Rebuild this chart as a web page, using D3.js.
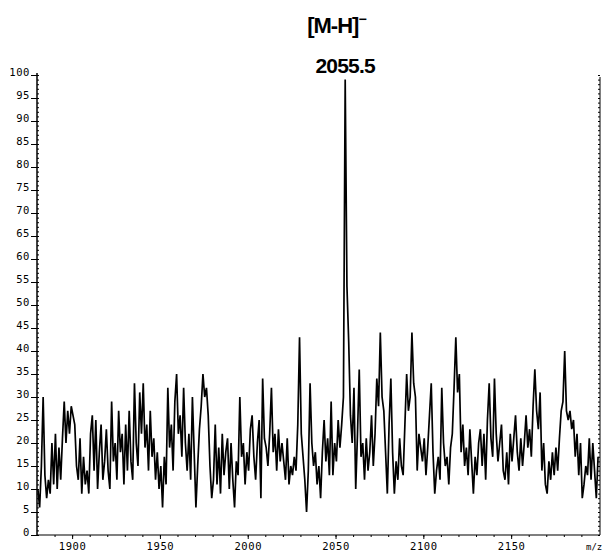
<!DOCTYPE html>
<html>
<head>
<meta charset="utf-8">
<script src="https://cdn.jsdelivr.net/npm/d3@7"></script>
<style>
  body { margin: 0; background: #fff; }
  svg { display: block; }
  .tick text { font-family: "DejaVu Sans Mono", monospace; font-size: 10.5px; letter-spacing: 0.6px; fill: #000; }
</style>
</head>
<body>
<svg id="chart" width="606" height="552"></svg>
<script>
// Negative-ion mass spectrum: relative abundance (%) against m/z.
// Intensities are sampled once per Da, starting at mzStart.
const mzStart = 1880.5;
const intensities = [
  10, 6, 15, 30, 13, 8, 12, 9, 20, 11, 22, 10, 19, 12, 21, 29, 20, 27, 22, 28,
  26, 24, 15, 12, 21, 9, 17, 11, 14, 9, 22, 26, 14, 25, 10, 18, 24, 12, 16, 23,
  14, 10, 29, 16, 20, 12, 27, 18, 22, 11, 24, 14, 27, 16, 12, 33, 20, 15, 31, 22,
  33, 19, 24, 14, 27, 17, 21, 12, 18, 10, 15, 6, 17, 11, 32, 19, 24, 14, 29, 35,
  22, 26, 17, 32, 20, 14, 22, 12, 30, 18, 6, 15, 23, 28, 35, 30, 32, 26, 15, 8,
  12, 24, 11, 19, 9, 22, 13, 18, 21, 10, 20, 12, 6, 16, 13, 30, 17, 20, 11, 18,
  14, 23, 26, 17, 12, 20, 25, 8, 34, 21, 19, 15, 22, 32, 18, 22, 14, 23, 16, 20,
  16, 12, 21, 11, 15, 13, 17, 14, 24, 43, 22, 17, 12, 5, 14, 33, 20, 15, 18, 11,
  15, 8, 18, 25, 16, 21, 13, 29, 13, 20, 16, 25, 19, 24, 30, 99, 54, 42, 26, 20,
  32, 10, 22, 36, 17, 20, 12, 21, 14, 18, 26, 15, 22, 34, 28, 44, 30, 27, 18, 9,
  24, 34, 18, 9, 16, 12, 21, 15, 13, 24, 35, 27, 30, 44, 33, 30, 14, 22, 19, 16,
  21, 13, 19, 26, 33, 18, 9, 14, 17, 12, 32, 20, 15, 17, 11, 19, 22, 32, 43, 31,
  35, 18, 24, 15, 19, 13, 23, 16, 9, 17, 13, 20, 23, 15, 22, 12, 25, 33, 21, 17,
  34, 22, 16, 20, 24, 14, 12, 18, 11, 22, 16, 21, 26, 18, 14, 21, 15, 20, 26, 19,
  23, 17, 28, 36, 27, 23, 31, 14, 20, 11, 9, 16, 12, 18, 13, 19, 14, 21, 27, 29,
  40, 27, 25, 27, 23, 25, 17, 22, 13, 20, 8, 11, 15, 13, 21, 12, 20, 14, 8, 17
];
const mzDomain = [1880, 2200.6];
const xTickValues = [1900, 1950, 2000, 2050, 2100, 2150];
const yTickValues = [0, 5, 10, 15, 20, 25, 30, 35, 40, 45, 50, 55, 60, 65, 70, 75, 80, 85, 90, 95, 100];
const basePeakMz = 2055.5;
const ionLabel = "[M-H]";
const axisTitle = "m/z";

const plot = { left: 37, right: 600, top: 75, bottom: 535 };
const svg = d3.select("#chart");

const x = d3.scaleLinear().domain(mzDomain).range([plot.left, plot.right]);
const y = d3.scaleLinear().domain([0, 100]).range([plot.bottom, plot.top]);

const mz = intensities.map((_, i) => mzStart + i);

// spectrum trace
svg.append("path")
  .datum(intensities)
  .attr("fill", "none")
  .attr("stroke", "#000")
  .attr("stroke-width", 1.7)
  .attr("d", d3.line().x((d, i) => x(mz[i])).y(d => y(d)));

// bottom axis: labelled majors plus 10 Da minor ticks
const minorX = d3.range(1890, 2200, 10);
svg.append("g")
  .attr("transform", `translate(0,${plot.bottom})`)
  .call(d3.axisBottom(x).tickValues(minorX).tickSize(2).tickFormat(""))
  .call(g => g.select(".domain").remove())
  .call(g => g.selectAll("line").attr("stroke", "#000"));
svg.append("g")
  .attr("transform", `translate(0,${plot.bottom})`)
  .call(d3.axisBottom(x).tickValues(xTickValues).tickSize(4).tickPadding(4).tickFormat(d3.format("d")))
  .call(g => g.select(".domain").attr("d", `M${plot.left},0H${plot.right}`).attr("stroke", "#000").attr("stroke-width", 1.2))
  .call(g => g.selectAll("line").attr("stroke", "#000"));

svg.append("text")
  .attr("x", 586).attr("y", 550)
  .attr("fill", "#000")
  .attr("font-family", "DejaVu Sans Mono, monospace")
  .attr("font-size", 9)
  .text(axisTitle);

// left axis: 1 % minor ticks, labels every 5 %
const minorY = d3.range(0, 101, 1);
svg.append("g")
  .attr("transform", `translate(${plot.left},0)`)
  .call(d3.axisRight(y).tickValues(minorY).tickSize(2).tickFormat(""))
  .call(g => g.select(".domain").remove())
  .call(g => g.selectAll("line").attr("stroke", "#000"));
svg.append("g")
  .attr("transform", `translate(${plot.left},0)`)
  .call(d3.axisLeft(y).tickValues(yTickValues).tickSize(6).tickPadding(1).tickFormat(d3.format("d")))
  .call(g => g.select(".domain").attr("d", `M0,${plot.bottom}V${plot.top - 2}`).attr("stroke", "#000").attr("stroke-width", 1.5))
  .call(g => g.selectAll("line").attr("stroke", "#000"))
  .call(g => g.selectAll("text").attr("dy", "0.05em"));

// right frame edge with matching minor ticks
svg.append("g")
  .attr("transform", `translate(${plot.right},0)`)
  .call(d3.axisLeft(y).tickValues(minorY).tickSize(2).tickFormat(""))
  .call(g => g.select(".domain").attr("d", `M0,${plot.bottom}V${plot.top + 2}`).attr("stroke", "#000"))
  .call(g => g.selectAll("line").attr("stroke", "#000"));

// base peak annotation
svg.append("text")
  .attr("x", x(basePeakMz)).attr("y", 73)
  .attr("text-anchor", "middle")
  .attr("font-family", "Liberation Sans, Arial, sans-serif")
  .attr("font-weight", "bold")
  .attr("font-size", 21)
  .attr("letter-spacing", -0.8)
  .text(d3.format(".1f")(basePeakMz));

const ion = svg.append("text")
  .attr("x", x(basePeakMz) - 38).attr("y", 33)
  .attr("font-family", "Liberation Sans, Arial, sans-serif")
  .attr("font-weight", "bold")
  .attr("font-size", 22)
  .attr("letter-spacing", -1);
ion.append("tspan").text(ionLabel);
ion.append("tspan").attr("dy", -9).attr("font-size", 14).text("\u2212");
</script>
</body>
</html>
